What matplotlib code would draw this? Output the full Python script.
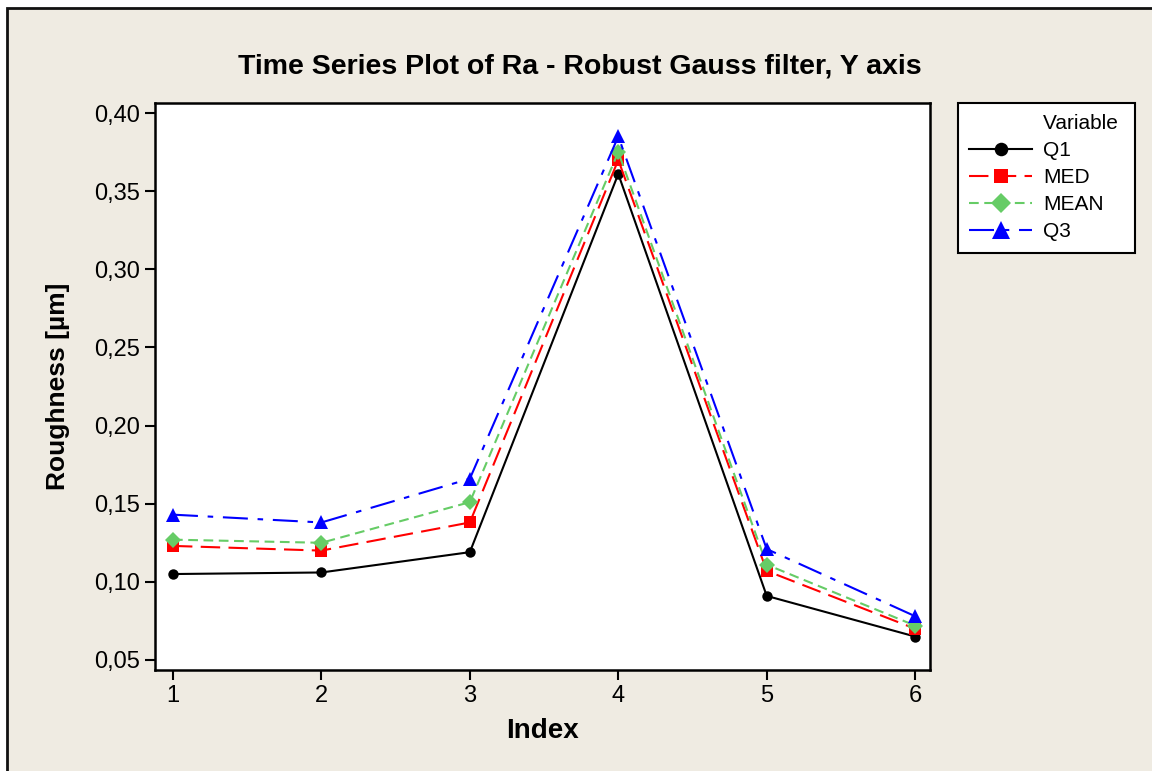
import matplotlib
matplotlib.use("Agg")
import matplotlib.pyplot as plt
from matplotlib.patches import Rectangle
from matplotlib.lines import Line2D
from matplotlib.ticker import FuncFormatter

plt.rcParams['font.family'] = ['Liberation Sans', 'DejaVu Sans']
plt.rcParams['lines.scale_dashes'] = False

index = [1, 2, 3, 4, 5, 6]
q1 = [0.105, 0.106, 0.119, 0.361, 0.091, 0.065]
med = [0.123, 0.120, 0.138, 0.370, 0.107, 0.070]
mean = [0.127, 0.125, 0.151, 0.375, 0.111, 0.072]
q3 = [0.143, 0.138, 0.166, 0.385, 0.121, 0.078]
series_names = ["Q1", "MED", "MEAN", "Q3"]
yticks = [0.05, 0.10, 0.15, 0.20, 0.25, 0.30, 0.35, 0.40]

bg = "#EFEBE2"
fig = plt.figure(figsize=(11.52, 7.71), dpi=100, facecolor="white")
W, H = 1152, 771

# framed beige panel
fig.patches.append(Rectangle((7 / W, -0.3), 1.2, 1.3 - 8 / H, transform=fig.transFigure,
                             facecolor=bg, edgecolor="#111111", linewidth=2, zorder=-10))

ax = fig.add_axes([155 / W, 1 - 670 / H, (930 - 155) / W, (670 - 103) / H])
ax.set_facecolor("white")

styles = [
    dict(color="black", linestyle="-", marker="o", markersize=7.5),
    dict(color="#FF0000", linestyle=(0, (14, 6)), marker="s", markersize=8),
    dict(color="#66CC66", linestyle=(0, (7, 4)), marker="D", markersize=8),
    dict(color="#0000FF", linestyle=(0, (18, 7, 4, 7)), marker="^", markersize=9.5),
]
handles = [Line2D([], [], linestyle="none", marker="none")]
labels = ["Variable "]
for vals, name, st in zip([q1, med, mean, q3], series_names, styles):
    ln, = ax.plot(index, vals, label=name, linewidth=1.5, markeredgewidth=0, **st)
    handles.append(ln)
    labels.append(name)

ax.set_xlim(0.879, 6.10)
ax.set_ylim(0.0436, 0.4064)
ax.set_xticks(index)
ax.set_yticks(yticks)
ax.yaxis.set_major_formatter(FuncFormatter(lambda v, p: f"{v:.2f}".replace(".", ",")))
ax.tick_params(axis="both", direction="out", length=7, width=1.5, labelsize=17, pad=4,
               colors="black")
for s in ax.spines.values():
    s.set_linewidth(1.8)

ax.set_xlabel("Index", fontsize=20, fontweight="bold", labelpad=8)
ax.set_ylabel("Roughness [µm]", fontsize=19, fontweight="bold", labelpad=17)
fig.text(580 / W, 1 - 66 / H, "Time Series Plot of Ra - Robust Gauss filter, Y axis",
         ha="center", va="center", fontsize=20.5, fontweight="bold")

leg = ax.legend(handles, labels, loc="upper left",
                bbox_to_anchor=(958 / W, 1 - 103 / H), bbox_transform=fig.transFigure,
                frameon=True, fancybox=False, framealpha=1, fontsize=15, markerscale=1.3,
                handlelength=3.0, handletextpad=0.53, borderpad=0.55, labelspacing=0.38,
                borderaxespad=0)
leg.get_frame().set_edgecolor("black")
leg.get_frame().set_linewidth(1.5)

fig.savefig("out.png", dpi=100, facecolor=fig.get_facecolor())
